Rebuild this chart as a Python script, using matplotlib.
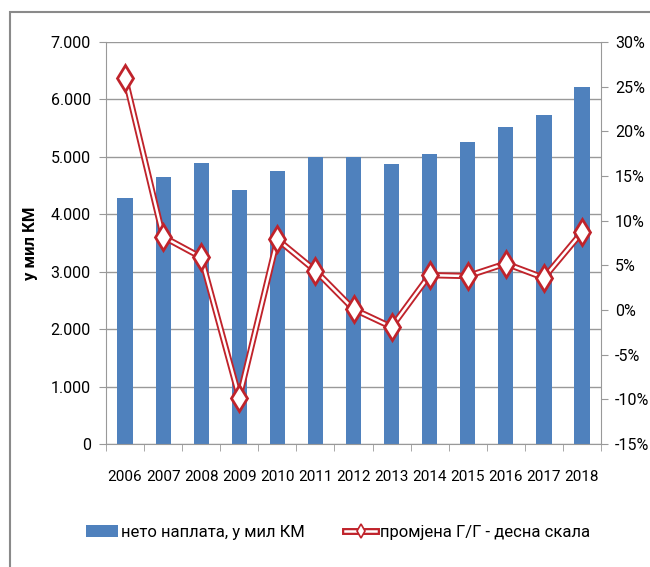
import matplotlib.pyplot as plt
import matplotlib.patheffects as pe
from matplotlib.lines import Line2D
from matplotlib.patches import Rectangle, Patch
from matplotlib.legend_handler import HandlerTuple
from matplotlib.ticker import FuncFormatter, MultipleLocator
import numpy as np

plt.rcParams['font.family'] = ['Roboto', 'DejaVu Sans']

years = ['2006', '2007', '2008', '2009', '2010', '2011', '2012',
         '2013', '2014', '2015', '2016', '2017', '2018']
net_collection = [4280, 4650, 4900, 4430, 4760, 5000, 5000,
                  4880, 5050, 5260, 5520, 5730, 6220]
yoy_change = [26.0, 8.2, 5.9, -9.8, 7.9, 4.4, 0.1,
              -1.9, 3.9, 3.8, 5.2, 3.6, 8.7]

bar_color = '#4F81BD'
line_color = '#C0232B'
axis_grey = '#999999'

fig = plt.figure(figsize=(6.5, 5.67), dpi=100)
# outer frame of the chart area (cut off at right and bottom)
fig.patches.append(Rectangle((10 / 650, -0.1), 1.2, 1 - 12 / 567 + 0.1,
                             transform=fig.transFigure, fill=False,
                             edgecolor='#8a8a8a', linewidth=1.5))

ax = fig.add_axes([106 / 650, 1 - 444 / 567, 495 / 650, 402 / 567])
x = np.arange(len(years))
ax.bar(x, net_collection, width=0.4, color=bar_color, zorder=2)
ax.set_xlim(-0.5, len(years) - 0.5)
ax.set_ylim(0, 7000)
ax.yaxis.set_major_locator(MultipleLocator(1000))
ax.yaxis.set_major_formatter(FuncFormatter(lambda v, p: f'{int(v):,}'.replace(',', '.')))
ax.grid(axis='y', color=axis_grey, linewidth=1.0, zorder=0)
ax.set_xticks(x)
ax.set_xticklabels(years, fontsize=11)
ax.set_xticks(np.arange(-0.5, len(years)), minor=True)
ax.tick_params(axis='x', which='major', length=0, pad=19)
ax.tick_params(axis='x', which='minor', length=5, color=axis_grey)
ax.tick_params(axis='y', labelsize=11.5, length=5, color=axis_grey, pad=6)
ax.set_ylabel('у мил КМ', fontsize=12, fontweight='bold')
ax.yaxis.set_label_coords(-0.137, 0.5)
for s in ['top', 'right']:
    ax.spines[s].set_visible(False)
for s in ['left', 'bottom']:
    ax.spines[s].set_color(axis_grey)

ax2 = ax.twinx()
ax2.set_ylim(-15, 30)
ax2.yaxis.set_major_locator(MultipleLocator(5))
ax2.yaxis.set_major_formatter(FuncFormatter(lambda v, p: f'{int(round(v))}%'))
ax2.tick_params(axis='y', labelsize=11.5, length=5, color=axis_grey, pad=5)
for s in ['top', 'left', 'bottom']:
    ax2.spines[s].set_visible(False)
ax2.spines['right'].set_color(axis_grey)

# double line: thick red stroke with a white core
double_line = [pe.Stroke(linewidth=4.5, foreground=line_color),
               pe.Stroke(linewidth=1.8, foreground='white')]
ax2.plot(x, yoy_change, color='white', linewidth=1.8, zorder=3,
         path_effects=double_line)
ax2.plot(x, yoy_change, linestyle='none', marker='d', markersize=13,
         markerfacecolor='white', markeredgecolor=line_color,
         markeredgewidth=2, zorder=4)

# legend: line and marker drawn as two overlaid handles
leg_line = Line2D([], [], color='white', linewidth=1.8,
                  path_effects=[pe.Stroke(linewidth=5, foreground=line_color),
                                pe.Stroke(linewidth=1.8, foreground='white')])
leg_marker = Line2D([], [], linestyle='none', marker='d', markersize=7,
                    markerfacecolor='white', markeredgecolor=line_color,
                    markeredgewidth=1.2)
handles = [Patch(facecolor=bar_color), (leg_line, leg_marker)]
fig.legend(handles, ['нето наплата, у мил КМ', 'промјена Г/Г - десна скала'],
           handler_map={tuple: HandlerTuple(ndivide=1)},
           loc='center', bbox_to_anchor=(0.52, 1 - 532 / 567), ncol=2,
           frameon=False, fontsize=12, handlelength=1.9, handletextpad=0.2,
           columnspacing=2.4)

fig.savefig('out.png', dpi=100)
